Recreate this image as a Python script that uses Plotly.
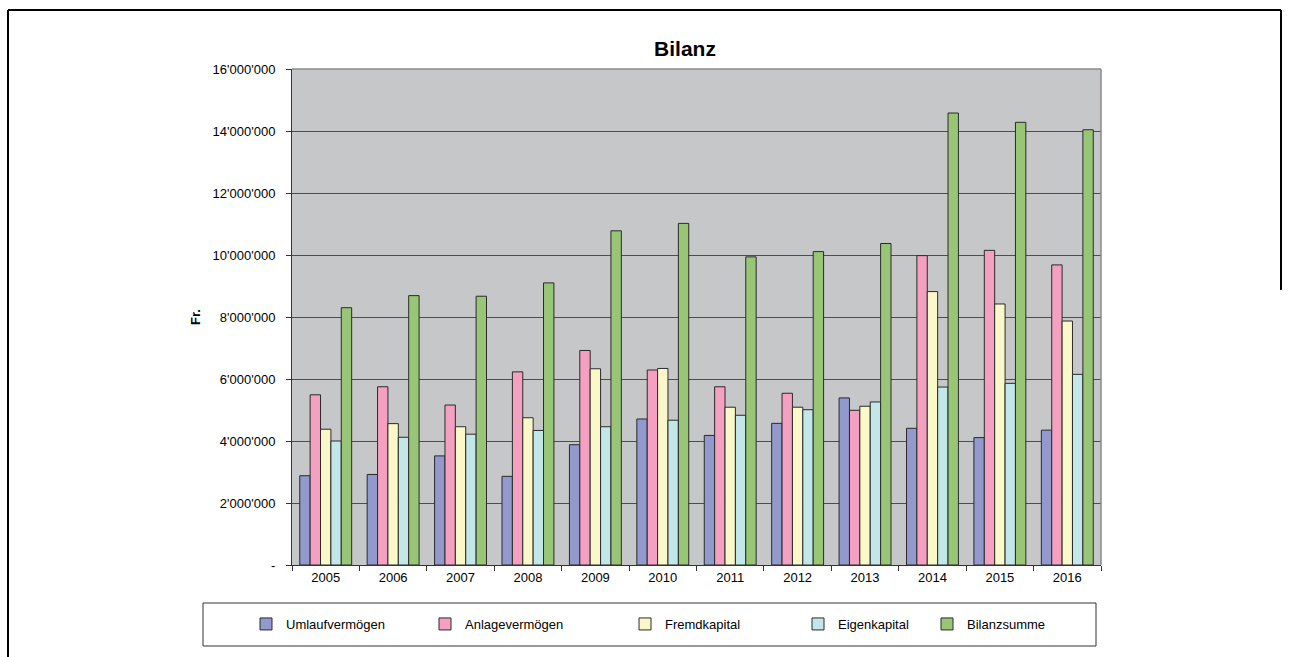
import plotly.graph_objects as go

years = ["2005", "2006", "2007", "2008", "2009", "2010", "2011", "2012", "2013", "2014", "2015", "2016"]
umlauf = [2.88, 2.92, 3.52, 2.86, 3.88, 4.71, 4.18, 4.57, 5.39, 4.41, 4.11, 4.35]
anlage = [5.49, 5.75, 5.16, 6.23, 6.92, 6.29, 5.75, 5.54, 4.99, 9.98, 10.15, 9.68]
fremd = [4.38, 4.56, 4.46, 4.75, 6.33, 6.34, 5.09, 5.09, 5.12, 8.82, 8.42, 7.87]
eigen = [4.00, 4.12, 4.22, 4.34, 4.46, 4.67, 4.83, 5.01, 5.26, 5.74, 5.86, 6.15]
bilanz = [8.30, 8.69, 8.67, 9.10, 10.78, 11.02, 9.94, 10.11, 10.37, 14.58, 14.28, 14.04]

series_names = ["Umlaufvermögen", "Anlagevermögen", "Fremdkapital", "Eigenkapital", "Bilanzsumme"]
series_values = [umlauf, anlage, fremd, eigen, bilanz]
series_colors = ["#9299CC", "#F4A0C0", "#FAF7C8", "#C3E6E8", "#98C676"]

y_tickvals = [0, 2e6, 4e6, 6e6, 8e6, 10e6, 12e6, 14e6, 16e6]
y_ticktext = ["-", "2'000'000", "4'000'000", "6'000'000", "8'000'000",
              "10'000'000", "12'000'000", "14'000'000", "16'000'000"]

W, H = 1290, 657
L, R, T, B = 292, 1101, 69, 565
PW, PH = R - L, B - T

def px_x(p):
    return (p - L) / PW

def px_y(p):
    return (B - p) / PH

FONT = "Liberation Sans, Arial, sans-serif"

fig = go.Figure()
legend_text_starts = [286, 465, 665, 838, 967]
layout_legends = {}
for i, (name, vals, col) in enumerate(zip(series_names, series_values, series_colors)):
    lg = "legend" if i == 0 else f"legend{i+1}"
    fig.add_trace(go.Bar(
        x=years, y=[v * 1e6 for v in vals], name=name,
        marker=dict(color=col, line=dict(color="#2a2a2a", width=1)),
        legend=lg, showlegend=True,
    ))
    layout_legends[lg] = dict(
        x=px_x(legend_text_starts[i] - 40), xanchor="left",
        y=px_y(624), yanchor="middle",
        orientation="h", bgcolor="rgba(0,0,0,0)", borderwidth=0,
        font=dict(family=FONT, size=13, color="#000"),
        itemclick=False, itemdoubleclick=False,
    )

shapes = [
    # outer chart border (top, left, right)
    dict(type="line", xref="paper", yref="paper", x0=px_x(8), x1=px_x(1281), y0=px_y(10), y1=px_y(10),
         line=dict(color="#000", width=2)),
    dict(type="line", xref="paper", yref="paper", x0=px_x(8), x1=px_x(8), y0=px_y(10), y1=px_y(670),
         line=dict(color="#000", width=2)),
    dict(type="line", xref="paper", yref="paper", x0=px_x(1281), x1=px_x(1281), y0=px_y(10), y1=px_y(290),
         line=dict(color="#000", width=2)),
    # plot area top/right border
    dict(type="line", xref="paper", yref="paper", x0=0, x1=1, y0=1, y1=1,
         line=dict(color="#8a8a8a", width=1.5)),
    dict(type="line", xref="paper", yref="paper", x0=1, x1=1, y0=0, y1=1,
         line=dict(color="#8a8a8a", width=1.5)),
    # legend box
    dict(type="rect", xref="paper", yref="paper", x0=px_x(203), x1=px_x(1096), y0=px_y(603), y1=px_y(646),
         line=dict(color="#333", width=1), fillcolor="rgba(0,0,0,0)"),
]

fig.update_layout(
    width=W, height=H,
    margin=dict(l=L, r=W - R, t=T, b=H - B, pad=0),
    paper_bgcolor="#FFFFFF",
    plot_bgcolor="#C6C7C9",
    barmode="group",
    bargap=0.23,
    bargroupgap=0,
    showlegend=True,
    font=dict(family=FONT, size=13, color="#000"),
    title=dict(text="<b>Bilanz</b>", xref="container", x=685 / W, xanchor="center",
               yref="container", y=1 - 49 / H, yanchor="middle",
               font=dict(family=FONT, size=21, color="#000")),
    xaxis=dict(
        type="category", tickson="boundaries", ticks="outside", ticklen=5, tickcolor="#333",
        showline=True, linecolor="#333", linewidth=1, showgrid=False,
        tickfont=dict(family=FONT, size=13, color="#000"),
    ),
    yaxis=dict(
        range=[0, 16e6], tickvals=y_tickvals, ticktext=y_ticktext,
        ticks="outside", ticklen=5, tickcolor="#333", ticklabelstandoff=8,
        showline=True, linecolor="#333", linewidth=1,
        showgrid=True, gridcolor="#4d4d4d", gridwidth=1, zeroline=False,
        tickfont=dict(family=FONT, size=13, color="#000"),
        title=dict(text="<b>Fr.</b>", standoff=9, font=dict(family=FONT, size=13, color="#000")),
    ),
    shapes=shapes,
    **layout_legends,
)

fig.write_html("out.html", config={"displayModeBar": False},
               post_script="document.body.style.margin='0px';")
